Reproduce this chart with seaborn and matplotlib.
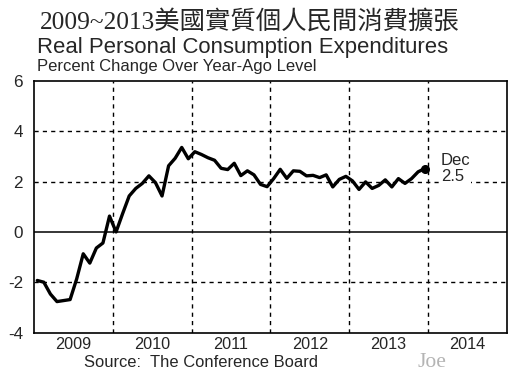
import numpy as np
import pandas as pd
import matplotlib
matplotlib.use("Agg")
import matplotlib.pyplot as plt
import seaborn as sns

# ---- data ----
start_year = 2009
pce_yoy = [
    -1.93, -2.00, -2.47, -2.77, -2.73, -2.69, -1.87, -0.87, -1.24, -0.64, -0.44, 0.63,
    0.00, 0.73, 1.43, 1.73, 1.93, 2.23, 1.96, 1.43, 2.63, 2.93, 3.36, 2.91,
    3.19, 3.08, 2.95, 2.85, 2.53, 2.48, 2.73, 2.24, 2.43, 2.27, 1.89, 1.80,
    2.12, 2.49, 2.13, 2.43, 2.41, 2.23, 2.25, 2.16, 2.27, 1.79, 2.09, 2.21,
    2.03, 1.69, 1.99, 1.73, 1.85, 2.07, 1.79, 2.12, 1.93, 2.12, 2.39, 2.52,
]
year_labels = ["2009", "2010", "2011", "2012", "2013", "2014"]
y_ticks = [-4, -2, 0, 2, 4, 6]
title_cn = "2009~2013美國實質個人民間消費擴張"
title_en = "Real Personal Consumption Expenditures"
subtitle = "Percent Change Over Year-Ago Level"
source = "Source:  The Conference Board"
last_label = "Dec\n2.5"

n = len(pce_yoy)
t = start_year + (np.arange(n) + 0.5) / 12.0
df = pd.DataFrame({"t": t, "v": pce_yoy})

sns.set_style("white")
plt.rcParams["font.family"] = ["Liberation Sans", "DejaVu Sans"]

fig = plt.figure(figsize=(5.15, 3.77), dpi=100)
ax = fig.add_axes([0.066, 0.118, 0.918, 0.667])

sns.lineplot(data=df, x="t", y="v", ax=ax, color="black", linewidth=2.4, zorder=3)
ax.plot(df["t"].iloc[-1], df["v"].iloc[-1], "o", color="black", markersize=5.5, zorder=6)

ax.set_xlim(2009, 2015)
ax.set_ylim(-4, 6)

# grid
for yr in range(2010, 2015):
    ax.axvline(yr, color="black", linestyle=(0, (3, 3)), linewidth=1.0, zorder=1)
for yv in [-2, 2, 4]:
    ax.axhline(yv, color="black", linestyle=(0, (3, 3)), linewidth=1.0, zorder=1)
ax.axhline(0, color="black", linewidth=1.1, zorder=1)

ax.set_xticks([2009.5 + i for i in range(len(year_labels))])
ax.set_xticklabels(year_labels, fontsize=11.7)
ax.tick_params(axis="x", length=0, pad=3)
ax.set_yticks(y_ticks)
ax.set_yticklabels([str(v) for v in y_ticks], fontsize=12.3)
ax.tick_params(axis="y", direction="in", length=3, width=1, color="black", pad=8)
ax.set_xlabel("")
ax.set_ylabel("")
for s in ax.spines.values():
    s.set_color("black")
    s.set_linewidth(1.2)
    s.set_visible(True)

ax.text(2014.165, 2.52, last_label, fontsize=12, va="center", ha="left", zorder=5,
        linespacing=1.15,
        bbox=dict(facecolor="white", edgecolor="none", pad=0.5))

fig.text(0.078, 0.923, title_cn, fontsize=18.3, family=["Liberation Serif", "Noto Sans CJK TC"],
         va="baseline", ha="left")
fig.text(0.071, 0.859, title_en, fontsize=15.9, va="baseline", ha="left")
fig.text(0.071, 0.812, subtitle, fontsize=12, va="baseline", ha="left")
fig.text(0.163, 0.027, source, fontsize=11.9, va="baseline", ha="left")
fig.text(0.81, 0.027, "Joe", fontsize=15.5, color="#b4b4b4", family="Liberation Serif",
         va="baseline", ha="left")

fig.savefig("out.png", dpi=100)
